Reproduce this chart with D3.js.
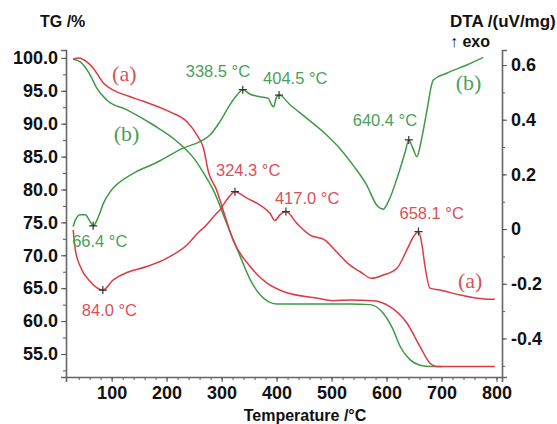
<!DOCTYPE html>
<html>
<head>
<meta charset="utf-8">
<script src="https://cdn.jsdelivr.net/npm/d3@7"></script>
<style>
  body { margin: 0; background: #fff; }
  svg text { font-family: "Liberation Sans", Arial, sans-serif; }
</style>
</head>
<body>
<div class="tg-dta"></div>
<script>
// TG curves, [temperature °C, mass %]
const tgA = [[30,99.8],[40,100],[55,99.4],[67,98.4],[85,96.2],[103,95.1],[130,94.2],[158,93.4],[206,91.8],[237,90.3],[255,88.3],[267,86.3],[276,82.7],[291,79.9],[306,76],[321,72.3],[352,68.3],[382,65.8],[412,64.5],[473,63.5],[503,63.1],[534,63.2],[576,63.1],[606,62.2],[637,59.7],[661,56.1],[679,53.6],[691,53.1],[740,53.1],[797,53.1]];
const tgB = [[30,99.8],[43,99.4],[61,97.4],[73,95.4],[91,93.6],[128,92.1],[176,89.8],[219,87.3],[249,84.8],[273,81.7],[285,79.9],[309,74.9],[334,69.8],[352,66.3],[370,64.0],[400,62.6],[450,62.6],[534,62.6],[570,62.5],[594,61.2],[612,58.7],[625,56.1],[643,54.1],[661,53.3],[680,53.1],[700,53.1]];

// DTA curves, [temperature °C, uV/mg]
const dtaA = [[30,-0.003],[34,-0.076],[43,-0.137],[61,-0.192],[84,-0.223],[103,-0.186],[128,-0.159],[164,-0.137],[200,-0.107],[237,-0.058],[261,-0.006],[267,0.004],[291,0.058],[297,0.070],[309,0.106],[324.3,0.137],[346,0.113],[370,0.088],[388,0.058],[397,0.031],[406,0.052],[417,0.064],[437,0.021],[461,-0.022],[488,-0.040],[509,-0.083],[534,-0.133],[552,-0.156],[573,-0.180],[594,-0.168],[619,-0.143],[637,-0.076],[649,-0.028],[658.1,-0.009],[664,-0.052],[670,-0.137],[679,-0.216],[697,-0.223],[734,-0.241],[764,-0.253],[797,-0.257]];
const dtaB = [[30,0.009],[34,0.033],[43,0.052],[52,0.052],[61,0.027],[66.4,0.012],[76,0.045],[85,0.094],[97,0.135],[103,0.15],[128,0.19],[140,0.205],[176,0.238],[188,0.25],[231,0.297],[261,0.320],[279,0.344],[297,0.393],[315,0.454],[328,0.490],[338.5,0.510],[352,0.493],[370,0.484],[385,0.478],[391,0.454],[395,0.447],[399,0.478],[404.5,0.490],[425,0.454],[455,0.405],[491,0.344],[515,0.295],[539,0.234],[564,0.161],[582,0.088],[594,0.073],[606,0.113],[621,0.198],[634,0.283],[640.4,0.326],[648,0.295],[655,0.265],[664,0.332],[673,0.429],[685,0.545],[709,0.570],[746,0.600],[776,0.628]];

// peak temperatures marked on the DTA curves
const peaksA = [84.0, 324.3, 417.0, 658.1];
const peaksB = [66.4, 338.5, 404.5, 640.4];

// tick values
const xTicks = [100, 200, 300, 400, 500, 600, 700, 800];
const tgTicks = [55, 60, 65, 70, 75, 80, 85, 90, 95, 100];
const dtaTicks = [-0.4, -0.2, 0, 0.2, 0.4, 0.6];

// curve name labels: [temperature, value]
const nameTgA = [123, 96.5], nameTgB = [127, 87.4];
const nameDtaA = [752, -0.215], nameDtaB = [749, 0.509];

const W = 557, H = 424;
const margin = {top: 50, right: 55, bottom: 47, left: 66};
const w = W - margin.left - margin.right;
const h = H - margin.top - margin.bottom;

const red = "#dc3a44", green = "#3f9a45";
const redText = "#d9505a", greenText = "#4aa05a";

const svg = d3.select(".tg-dta")
  .append("svg")
    .attr("width", W)
    .attr("height", H);

const g = svg.append("g")
  .attr("transform", `translate(${margin.left},${margin.top})`);

const x = d3.scaleLinear().domain([17, 810]).range([0, w]);
const yTg = d3.scaleLinear().domain([51.5, 101.2]).range([h, 0]);
const yDta = d3.scaleLinear().domain([-0.541, 0.655]).range([h, 0]);

function styleAxis(sel) {
  sel.select(".domain").attr("stroke", "#666").attr("stroke-width", 1.6);
  sel.selectAll(".tick line").attr("stroke", "#555").attr("stroke-width", 1);
  sel.selectAll(".tick text")
    .attr("font-size", 18)
    .attr("font-weight", "bold")
    .attr("fill", "#111");
}

// minor ticks first, majors on top
g.append("g")
  .attr("transform", `translate(0,${h})`)
  .call(d3.axisBottom(x).tickValues(d3.range(40, 801, 20)).tickSize(3).tickFormat(""))
  .call(g => g.select(".domain").remove())
  .call(g => g.selectAll(".tick line").attr("stroke", "#555"));

g.append("g")
  .call(d3.axisLeft(yTg).tickValues(d3.range(52.5, 101, 2.5)).tickSize(3).tickFormat(""))
  .call(g => g.select(".domain").remove())
  .call(g => g.selectAll(".tick line").attr("stroke", "#555"));

g.append("g")
  .attr("transform", `translate(${w},0)`)
  .call(d3.axisRight(yDta).tickValues(d3.range(-0.5, 0.61, 0.1)).tickSize(3).tickFormat(""))
  .call(g => g.select(".domain").remove())
  .call(g => g.selectAll(".tick line").attr("stroke", "#555"));

g.append("g")
  .attr("transform", `translate(0,${h})`)
  .call(d3.axisBottom(x).tickValues(xTicks).tickSize(5).tickPadding(4).tickFormat(d3.format("d")))
  .call(styleAxis);

g.append("g")
  .call(d3.axisLeft(yTg).tickValues(tgTicks).tickSize(5).tickPadding(3).tickFormat(d3.format(".1f")))
  .call(styleAxis);

g.append("g")
  .attr("transform", `translate(${w},0)`)
  .call(d3.axisRight(yDta).tickValues(dtaTicks).tickSize(5).tickPadding(4)
    .tickFormat(d => d === 0 ? "0" : d3.format(".1f")(d).replace("−", "-")))
  .call(styleAxis);

// axis titles
svg.append("text")
  .attr("x", 40).attr("y", 27)
  .attr("font-size", 16).attr("font-weight", "bold").attr("fill", "#111")
  .text("TG /%");

svg.append("text")
  .attr("x", 450).attr("y", 27)
  .attr("font-size", 17).attr("font-weight", "bold").attr("fill", "#111")
  .text("DTA /(uV/mg)");

svg.append("text")
  .attr("x", 450).attr("y", 47)
  .attr("font-size", 16).attr("font-weight", "bold").attr("fill", "#111")
  .text("↑ exo");

svg.append("text")
  .attr("x", margin.left + w / 2 + 21).attr("y", 421)
  .attr("text-anchor", "middle")
  .attr("font-size", 16).attr("font-weight", "bold").attr("fill", "#111")
  .text("Temperature /°C");

// curves
const lineTg = d3.line().curve(d3.curveMonotoneX).x(d => x(d[0])).y(d => yTg(d[1]));
const lineDta = d3.line().curve(d3.curveMonotoneX).x(d => x(d[0])).y(d => yDta(d[1]));

const curves = [
  {data: tgB, line: lineTg, color: green},
  {data: tgA, line: lineTg, color: red},
  {data: dtaB, line: lineDta, color: green},
  {data: dtaA, line: lineDta, color: red}
];

g.selectAll(".curve")
  .data(curves)
  .join("path")
    .attr("class", "curve")
    .attr("fill", "none")
    .attr("stroke", d => d.color)
    .attr("stroke-width", 1.5)
    .attr("stroke-linejoin", "round")
    .attr("d", d => d.line(d.data));

// value of a curve at temperature t
function valueAt(data, t) {
  const i = d3.bisector(d => d[0]).left(data, t);
  if (i <= 0) return data[0][1];
  if (i >= data.length) return data[data.length - 1][1];
  const a = data[i - 1], b = data[i];
  return a[1] + (b[1] - a[1]) * (t - a[0]) / (b[0] - a[0]);
}

// label offsets from the peak marker
const offsA = [[-21, 26], [-19, -16], [-11, -8], [-19, -13]];
const offsB = [[-21, 21], [-57, -13], [-16, -11], [-56, -14]];

const peaks = [
  ...peaksA.map((t, i) => ({t, v: valueAt(dtaA, t), off: offsA[i], color: redText})),
  ...peaksB.map((t, i) => ({t, v: valueAt(dtaB, t), off: offsB[i], color: greenText}))
];

g.selectAll(".peak")
  .data(peaks)
  .join("path")
    .attr("class", "peak")
    .attr("transform", d => `translate(${x(d.t)},${yDta(d.v)})`)
    .attr("d", "M-4,0H4M0,-4V4")
    .attr("stroke", "#333")
    .attr("stroke-width", 1.2);

g.selectAll(".peak-label")
  .data(peaks)
  .join("text")
    .attr("class", "peak-label")
    .attr("x", d => x(d.t) + d.off[0])
    .attr("y", d => yDta(d.v) + d.off[1])
    .attr("font-size", 16.5)
    .attr("fill", d => d.color)
    .text(d => d3.format(".1f")(d.t) + " °C");

// curve names
const names = [
  {p: nameTgA, y: yTg, text: "(a)", color: redText},
  {p: nameTgB, y: yTg, text: "(b)", color: greenText},
  {p: nameDtaA, y: yDta, text: "(a)", color: redText},
  {p: nameDtaB, y: yDta, text: "(b)", color: greenText}
];

g.selectAll(".name")
  .data(names)
  .join("text")
    .attr("class", "name")
    .attr("x", d => x(d.p[0]))
    .attr("y", d => d.y(d.p[1]))
    .attr("text-anchor", "middle")
    .attr("font-size", 22)
    .attr("fill", d => d.color)
    .style("font-family", "'Liberation Serif', 'DejaVu Serif', serif")
    .text(d => d.text);
</script>
</body>
</html>
